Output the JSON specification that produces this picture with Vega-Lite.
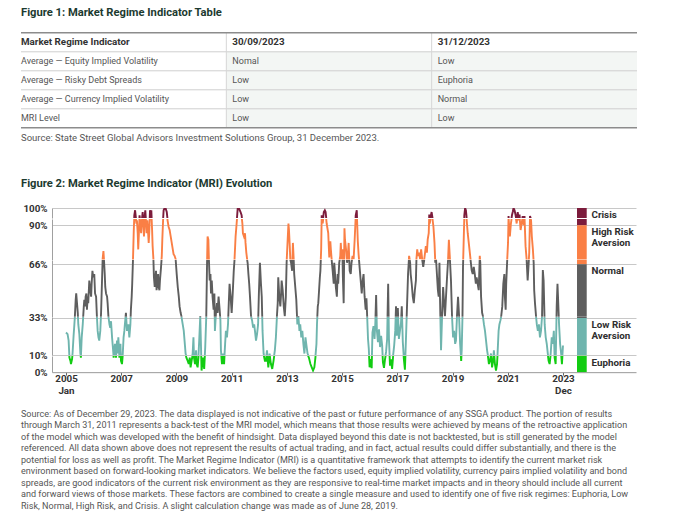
{
 "$schema": "https://vega.github.io/schema/vega-lite/v6.json",
 "padding": {"left": 20, "top": 0, "right": 0, "bottom": 0},
 "background": "white",
 "spacing": 0,
 "bounds": "flush",
 "config": {"view": {"stroke": null}, "font": "Roboto", "axis": {"labelFont": "Roboto"}},
 "datasets": {
  "table": [
   {"r":0,"c":0,"text":"Market Regime Indicator"},{"r":0,"c":1,"text":"30/09/2023"},{"r":0,"c":2,"text":"31/12/2023"},
   {"r":1,"c":0,"text":"Average — Equity Implied Volatility"},{"r":1,"c":1,"text":"Nomal"},{"r":1,"c":2,"text":"Low"},
   {"r":2,"c":0,"text":"Average — Risky Debt Spreads"},{"r":2,"c":1,"text":"Low"},{"r":2,"c":2,"text":"Euphoria"},
   {"r":3,"c":0,"text":"Average — Currency Implied Volatility"},{"r":3,"c":1,"text":"Low"},{"r":3,"c":2,"text":"Normal"},
   {"r":4,"c":0,"text":"MRI Level"},{"r":4,"c":1,"text":"Low"},{"r":4,"c":2,"text":"Low"}
  ],
  "legend": [
   {"regime":"Crisis","lo":90,"hi":100,"label":"Crisis"},
   {"regime":"High Risk Aversion","lo":66,"hi":90,"label":"High Risk|Aversion"},
   {"regime":"Normal","lo":33,"hi":66,"label":"Normal"},
   {"regime":"Low Risk Aversion","lo":10,"hi":33,"label":"Low Risk|Aversion"},
   {"regime":"Euphoria","lo":0,"hi":10,"label":"Euphoria"}
  ],
  "foot": [
   {"line":1,"text":"Source: As of December 29, 2023. The data displayed is not indicative of the past or future performance of any SSGA product. The portion of results"},
   {"line":2,"text":"through March 31, 2011 represents a back-test of the MRI model, which means that those results were achieved by means of the retroactive application"},
   {"line":3,"text":"of the model which was developed with the benefit of hindsight. Data displayed beyond this date is not backtested, but is still generated by the model"},
   {"line":4,"text":"referenced. All data shown above does not represent the results of actual trading, and in fact, actual results could differ substantially, and there is the"},
   {"line":5,"text":"potential for loss as well as profit. The Market Regime Indicator (MRI) is a quantitative framework that attempts to identify the current market risk"},
   {"line":6,"text":"environment based on forward-looking market indicators. We believe the factors used, equity implied volatility, currency pairs implied volatility and bond"},
   {"line":7,"text":"spreads, are good indicators of the current risk environment as they are responsive to real-time market impacts and in theory should include all current"},
   {"line":8,"text":"and forward views of those markets. These factors are combined to create a single measure and used to identify one of five risk regimes: Euphoria, Low"},
   {"line":9,"text":"Risk, Normal, High Risk, and Crisis. A slight calculation change was made as of June 28, 2019."}
  ],
  "mri": [
   {"t":2005.00,"v":24},{"t":2005.06,"v":23},{"t":2005.10,"v":19},{"t":2005.13,"v":9},{"t":2005.17,"v":7},{"t":2005.19,"v":5},{"t":2005.23,"v":8},{"t":2005.25,"v":11},{"t":2005.29,"v":22},{"t":2005.32,"v":29},{"t":2005.34,"v":34},{"t":2005.37,"v":44},{"t":2005.39,"v":48},{"t":2005.42,"v":42},{"t":2005.45,"v":36},{"t":2005.47,"v":29},{"t":2005.51,"v":23},{"t":2005.55,"v":11},{"t":2005.57,"v":9},{"t":2005.60,"v":21},{"t":2005.64,"v":29},{"t":2005.68,"v":40},{"t":2005.70,"v":44},{"t":2005.73,"v":40},{"t":2005.75,"v":46},{"t":2005.78,"v":48},{"t":2005.80,"v":38},{"t":2005.83,"v":46},{"t":2005.85,"v":42},{"t":2005.89,"v":56},{"t":2005.93,"v":50},{"t":2005.96,"v":46},{"t":2005.98,"v":54},
   {"t":2006.01,"v":62},{"t":2006.04,"v":58},{"t":2006.08,"v":60},{"t":2006.11,"v":48},{"t":2006.15,"v":46},{"t":2006.18,"v":34},{"t":2006.21,"v":25},{"t":2006.24,"v":21},{"t":2006.27,"v":19},{"t":2006.31,"v":25},{"t":2006.34,"v":36},{"t":2006.38,"v":58},{"t":2006.40,"v":69},{"t":2006.43,"v":74},{"t":2006.45,"v":69},{"t":2006.48,"v":60},{"t":2006.50,"v":52},{"t":2006.53,"v":48},{"t":2006.57,"v":46},{"t":2006.59,"v":42},{"t":2006.62,"v":34},{"t":2006.66,"v":29},{"t":2006.69,"v":27},{"t":2006.72,"v":31},{"t":2006.76,"v":21},{"t":2006.80,"v":13},{"t":2006.82,"v":9},{"t":2006.87,"v":17},{"t":2006.91,"v":9},{"t":2006.95,"v":19},{"t":2006.97,"v":11},
   {"t":2007.00,"v":21},{"t":2007.04,"v":9},{"t":2007.08,"v":17},{"t":2007.10,"v":7},{"t":2007.14,"v":5},{"t":2007.17,"v":11},{"t":2007.20,"v":21},{"t":2007.23,"v":25},{"t":2007.25,"v":29},{"t":2007.29,"v":36},{"t":2007.33,"v":25},{"t":2007.38,"v":29},{"t":2007.42,"v":21},{"t":2007.46,"v":29},{"t":2007.48,"v":38},{"t":2007.51,"v":46},{"t":2007.53,"v":54},{"t":2007.56,"v":69},{"t":2007.59,"v":87},{"t":2007.61,"v":95.5},{"t":2007.64,"v":98.6},{"t":2007.66,"v":95.5},{"t":2007.69,"v":91},{"t":2007.71,"v":93},{"t":2007.74,"v":85},{"t":2007.76,"v":75},{"t":2007.79,"v":87},{"t":2007.81,"v":95.5},{"t":2007.84,"v":91},{"t":2007.87,"v":85},{"t":2007.89,"v":91},{"t":2007.93,"v":97.5},{"t":2007.95,"v":91},{"t":2007.98,"v":83},
   {"t":2008.01,"v":95.5},{"t":2008.03,"v":98.6},{"t":2008.06,"v":91},{"t":2008.08,"v":85},{"t":2008.11,"v":93},{"t":2008.13,"v":87},{"t":2008.16,"v":79},{"t":2008.18,"v":85},{"t":2008.21,"v":98.6},{"t":2008.24,"v":95.5},{"t":2008.26,"v":98.6},{"t":2008.29,"v":87},{"t":2008.31,"v":77},{"t":2008.34,"v":69},{"t":2008.36,"v":58},{"t":2008.39,"v":52},{"t":2008.41,"v":56},{"t":2008.44,"v":62},{"t":2008.46,"v":50},{"t":2008.49,"v":54},{"t":2008.52,"v":60},{"t":2008.54,"v":52},{"t":2008.57,"v":50},{"t":2008.59,"v":56},{"t":2008.63,"v":64},{"t":2008.66,"v":71},{"t":2008.68,"v":81},{"t":2008.71,"v":93},{"t":2008.73,"v":98.6},{"t":2008.77,"v":100},{"t":2008.81,"v":99.6},{"t":2008.85,"v":97.5},{"t":2008.88,"v":93},{"t":2008.92,"v":89},{"t":2008.96,"v":87},
   {"t":2009.00,"v":83},{"t":2009.04,"v":79},{"t":2009.08,"v":75},{"t":2009.11,"v":72},{"t":2009.15,"v":71},{"t":2009.19,"v":69},{"t":2009.23,"v":60},{"t":2009.27,"v":52},{"t":2009.31,"v":46},{"t":2009.34,"v":40},{"t":2009.38,"v":36},{"t":2009.41,"v":34},{"t":2009.46,"v":29},{"t":2009.50,"v":25},{"t":2009.53,"v":19},{"t":2009.57,"v":11},{"t":2009.60,"v":9},{"t":2009.65,"v":7},{"t":2009.69,"v":5},{"t":2009.73,"v":9},{"t":2009.76,"v":3},{"t":2009.80,"v":7},{"t":2009.84,"v":11},{"t":2009.87,"v":21},{"t":2009.89,"v":9},{"t":2009.93,"v":5},{"t":2009.97,"v":13},{"t":2009.99,"v":5},
   {"t":2010.03,"v":3},{"t":2010.06,"v":9},{"t":2010.09,"v":19},{"t":2010.13,"v":34},{"t":2010.18,"v":1},{"t":2010.23,"v":9},{"t":2010.28,"v":2},{"t":2010.32,"v":15},{"t":2010.36,"v":34},{"t":2010.39,"v":67},{"t":2010.41,"v":83},{"t":2010.44,"v":81},{"t":2010.46,"v":69},{"t":2010.49,"v":56},{"t":2010.52,"v":60},{"t":2010.54,"v":48},{"t":2010.57,"v":56},{"t":2010.60,"v":46},{"t":2010.64,"v":38},{"t":2010.67,"v":48},{"t":2010.69,"v":25},{"t":2010.73,"v":36},{"t":2010.77,"v":42},{"t":2010.79,"v":36},{"t":2010.83,"v":46},{"t":2010.87,"v":38},{"t":2010.90,"v":31.5},{"t":2010.92,"v":13},{"t":2010.96,"v":5},
   {"t":2011.00,"v":11},{"t":2011.04,"v":5},{"t":2011.08,"v":17},{"t":2011.11,"v":25},{"t":2011.15,"v":21},{"t":2011.19,"v":29},{"t":2011.22,"v":42},{"t":2011.25,"v":54},{"t":2011.29,"v":46},{"t":2011.33,"v":36},{"t":2011.37,"v":48},{"t":2011.41,"v":62},{"t":2011.44,"v":69},{"t":2011.48,"v":83},{"t":2011.52,"v":91},{"t":2011.56,"v":99.6},{"t":2011.60,"v":100},{"t":2011.64,"v":98.6},{"t":2011.67,"v":97.5},{"t":2011.71,"v":95.5},{"t":2011.74,"v":91},{"t":2011.76,"v":85},{"t":2011.80,"v":83},{"t":2011.84,"v":85},{"t":2011.86,"v":79},{"t":2011.89,"v":73},{"t":2011.92,"v":69},{"t":2011.94,"v":67},{"t":2011.97,"v":60},
   {"t":2012.00,"v":54},{"t":2012.03,"v":46},{"t":2012.07,"v":34},{"t":2012.11,"v":31.5},{"t":2012.15,"v":27},{"t":2012.19,"v":29},{"t":2012.22,"v":25},{"t":2012.26,"v":19},{"t":2012.30,"v":23},{"t":2012.34,"v":29},{"t":2012.37,"v":48},{"t":2012.41,"v":67},{"t":2012.45,"v":54},{"t":2012.48,"v":46},{"t":2012.51,"v":25},{"t":2012.55,"v":11},{"t":2012.60,"v":7},{"t":2012.64,"v":7},{"t":2012.68,"v":13},{"t":2012.73,"v":3},{"t":2012.78,"v":11},{"t":2012.83,"v":5},{"t":2012.88,"v":2},{"t":2012.93,"v":7},{"t":2012.98,"v":13},
   {"t":2013.02,"v":21},{"t":2013.06,"v":34},{"t":2013.09,"v":42},{"t":2013.11,"v":58},{"t":2013.15,"v":46},{"t":2013.19,"v":40},{"t":2013.22,"v":48},{"t":2013.24,"v":56},{"t":2013.28,"v":50},{"t":2013.32,"v":40},{"t":2013.36,"v":34},{"t":2013.40,"v":46},{"t":2013.43,"v":67},{"t":2013.47,"v":81},{"t":2013.50,"v":91},{"t":2013.52,"v":87},{"t":2013.55,"v":77},{"t":2013.57,"v":69},{"t":2013.60,"v":67},{"t":2013.64,"v":62},{"t":2013.67,"v":79},{"t":2013.70,"v":69},{"t":2013.72,"v":60},{"t":2013.76,"v":52},{"t":2013.80,"v":44},{"t":2013.84,"v":29},{"t":2013.88,"v":34},{"t":2013.92,"v":25},{"t":2013.95,"v":29},{"t":2013.99,"v":21},
   {"t":2014.03,"v":25},{"t":2014.07,"v":17},{"t":2014.11,"v":11},{"t":2014.15,"v":21},{"t":2014.18,"v":17},{"t":2014.23,"v":11},{"t":2014.28,"v":9},{"t":2014.34,"v":5},{"t":2014.39,"v":3},{"t":2014.44,"v":1},{"t":2014.49,"v":3},{"t":2014.53,"v":9},{"t":2014.57,"v":17},{"t":2014.59,"v":29},{"t":2014.62,"v":40},{"t":2014.64,"v":42},{"t":2014.67,"v":50},{"t":2014.70,"v":58},{"t":2014.72,"v":62},{"t":2014.75,"v":75},{"t":2014.77,"v":95.5},{"t":2014.81,"v":91},{"t":2014.85,"v":97.5},{"t":2014.89,"v":98.6},{"t":2014.92,"v":97.5},{"t":2014.96,"v":91},
   {"t":2015.00,"v":87},{"t":2015.02,"v":85},{"t":2015.06,"v":70},{"t":2015.10,"v":80},{"t":2015.12,"v":75},{"t":2015.15,"v":69},{"t":2015.19,"v":62},{"t":2015.23,"v":54},{"t":2015.25,"v":67},{"t":2015.28,"v":60},{"t":2015.31,"v":52},{"t":2015.35,"v":46},{"t":2015.38,"v":60},{"t":2015.40,"v":54},{"t":2015.44,"v":67},{"t":2015.48,"v":71},{"t":2015.50,"v":79},{"t":2015.53,"v":69},{"t":2015.56,"v":75},{"t":2015.58,"v":58},{"t":2015.61,"v":42},{"t":2015.64,"v":88},{"t":2015.66,"v":81},{"t":2015.70,"v":75},{"t":2015.74,"v":67},{"t":2015.76,"v":69},{"t":2015.80,"v":79},{"t":2015.84,"v":62},{"t":2015.88,"v":60},{"t":2015.91,"v":67},{"t":2015.95,"v":71},{"t":2015.99,"v":69},
   {"t":2016.03,"v":81},{"t":2016.07,"v":95.5},{"t":2016.11,"v":98.6},{"t":2016.15,"v":80},{"t":2016.18,"v":72},{"t":2016.22,"v":64},{"t":2016.26,"v":56},{"t":2016.30,"v":48},{"t":2016.33,"v":55},{"t":2016.37,"v":60},{"t":2016.41,"v":46},{"t":2016.45,"v":38},{"t":2016.48,"v":45},{"t":2016.51,"v":33},{"t":2016.54,"v":20},{"t":2016.57,"v":14},{"t":2016.60,"v":3},{"t":2016.64,"v":8},{"t":2016.68,"v":2.5},{"t":2016.71,"v":24},{"t":2016.75,"v":28},{"t":2016.79,"v":20},{"t":2016.82,"v":30},{"t":2016.85,"v":47},{"t":2016.88,"v":25},{"t":2016.92,"v":18},{"t":2016.96,"v":26},
   {"t":2017.00,"v":15},{"t":2017.04,"v":22},{"t":2017.08,"v":16},{"t":2017.11,"v":6},{"t":2017.15,"v":2.7},{"t":2017.19,"v":8},{"t":2017.23,"v":12},{"t":2017.27,"v":20},{"t":2017.31,"v":54},{"t":2017.34,"v":20},{"t":2017.38,"v":4},{"t":2017.42,"v":8},{"t":2017.46,"v":2},{"t":2017.50,"v":10},{"t":2017.54,"v":16},{"t":2017.58,"v":25},{"t":2017.61,"v":40},{"t":2017.64,"v":22},{"t":2017.68,"v":39},{"t":2017.72,"v":20},{"t":2017.76,"v":25},{"t":2017.80,"v":30},{"t":2017.83,"v":40},{"t":2017.87,"v":18},{"t":2017.91,"v":8},{"t":2017.95,"v":1.5},{"t":2017.99,"v":20},
   {"t":2018.03,"v":40},{"t":2018.07,"v":60},{"t":2018.11,"v":71},{"t":2018.15,"v":67},{"t":2018.17,"v":60},{"t":2018.21,"v":54},{"t":2018.25,"v":46},{"t":2018.29,"v":42},{"t":2018.33,"v":50},{"t":2018.37,"v":56},{"t":2018.39,"v":69},{"t":2018.42,"v":75},{"t":2018.45,"v":71},{"t":2018.49,"v":73},{"t":2018.53,"v":69},{"t":2018.57,"v":75},{"t":2018.61,"v":69},{"t":2018.65,"v":64.5},{"t":2018.69,"v":69},{"t":2018.72,"v":73},{"t":2018.75,"v":77},{"t":2018.79,"v":73},{"t":2018.82,"v":81},{"t":2018.86,"v":85},{"t":2018.88,"v":96},{"t":2018.90,"v":91},{"t":2018.93,"v":94.4},{"t":2018.97,"v":97.5},
   {"t":2019.00,"v":94.4},{"t":2019.04,"v":89},{"t":2019.08,"v":79},{"t":2019.11,"v":67},{"t":2019.14,"v":69},{"t":2019.18,"v":58},{"t":2019.21,"v":50},{"t":2019.24,"v":46},{"t":2019.27,"v":67},{"t":2019.29,"v":46},{"t":2019.33,"v":13},{"t":2019.37,"v":34},{"t":2019.41,"v":52},{"t":2019.44,"v":44},{"t":2019.48,"v":34},{"t":2019.52,"v":46},{"t":2019.56,"v":58},{"t":2019.60,"v":69},{"t":2019.63,"v":81},{"t":2019.67,"v":69},{"t":2019.71,"v":56},{"t":2019.75,"v":34},{"t":2019.79,"v":21},{"t":2019.83,"v":25},{"t":2019.87,"v":17},{"t":2019.90,"v":19},{"t":2019.94,"v":34},{"t":2019.98,"v":46},
   {"t":2020.02,"v":34},{"t":2020.06,"v":17},{"t":2020.10,"v":7},{"t":2020.12,"v":13},{"t":2020.15,"v":34},{"t":2020.17,"v":64.5},{"t":2020.20,"v":83},{"t":2020.22,"v":95.5},{"t":2020.25,"v":100},{"t":2020.28,"v":98.6},{"t":2020.30,"v":95.5},{"t":2020.33,"v":89},{"t":2020.35,"v":85},{"t":2020.39,"v":79},{"t":2020.43,"v":73},{"t":2020.47,"v":67},{"t":2020.50,"v":62.5},{"t":2020.54,"v":60},{"t":2020.58,"v":64.5},{"t":2020.62,"v":60},{"t":2020.66,"v":54},{"t":2020.69,"v":58},{"t":2020.73,"v":54},{"t":2020.77,"v":50},{"t":2020.81,"v":71},{"t":2020.83,"v":67},{"t":2020.86,"v":46},{"t":2020.90,"v":36},{"t":2020.93,"v":34},{"t":2020.97,"v":29},
   {"t":2021.01,"v":25},{"t":2021.05,"v":19},{"t":2021.09,"v":13},{"t":2021.13,"v":9},{"t":2021.16,"v":5},{"t":2021.20,"v":7},{"t":2021.24,"v":11},{"t":2021.28,"v":3},{"t":2021.32,"v":7},{"t":2021.35,"v":13},{"t":2021.39,"v":5},{"t":2021.43,"v":1},{"t":2021.47,"v":5},{"t":2021.49,"v":11},{"t":2021.53,"v":25},{"t":2021.56,"v":29},{"t":2021.60,"v":31.5},{"t":2021.63,"v":34},{"t":2021.67,"v":40},{"t":2021.71,"v":54},{"t":2021.75,"v":60},{"t":2021.77,"v":46},{"t":2021.80,"v":38},{"t":2021.82,"v":54},{"t":2021.86,"v":69},{"t":2021.89,"v":79},{"t":2021.91,"v":95},{"t":2021.94,"v":87},{"t":2021.96,"v":83},
   {"t":2022.00,"v":91},{"t":2022.04,"v":95.5},{"t":2022.07,"v":97.5},{"t":2022.10,"v":100},{"t":2022.14,"v":98.6},{"t":2022.18,"v":95.5},{"t":2022.22,"v":91},{"t":2022.26,"v":97.5},{"t":2022.30,"v":93},{"t":2022.33,"v":96},{"t":2022.37,"v":87},{"t":2022.41,"v":91},{"t":2022.45,"v":95},{"t":2022.49,"v":90},{"t":2022.52,"v":95},{"t":2022.56,"v":77},{"t":2022.60,"v":69},{"t":2022.64,"v":56},{"t":2022.68,"v":67},{"t":2022.70,"v":73},{"t":2022.73,"v":95},{"t":2022.77,"v":93},{"t":2022.80,"v":83},{"t":2022.84,"v":75},{"t":2022.87,"v":67},{"t":2022.89,"v":50},{"t":2022.92,"v":42},{"t":2022.96,"v":34},{"t":2022.99,"v":29},
   {"t":2023.03,"v":25},{"t":2023.07,"v":29},{"t":2023.11,"v":21},{"t":2023.15,"v":25},{"t":2023.19,"v":34},{"t":2023.22,"v":62.5},{"t":2023.25,"v":56},{"t":2023.29,"v":29},{"t":2023.33,"v":21},{"t":2023.37,"v":17},{"t":2023.41,"v":11},{"t":2023.44,"v":7},{"t":2023.48,"v":5},{"t":2023.52,"v":11},{"t":2023.56,"v":21},{"t":2023.60,"v":17},{"t":2023.64,"v":25},{"t":2023.67,"v":9},{"t":2023.71,"v":5},{"t":2023.75,"v":40},{"t":2023.78,"v":54},{"t":2023.80,"v":46},{"t":2023.84,"v":29},{"t":2023.88,"v":17},{"t":2023.92,"v":11},{"t":2023.95,"v":5},{"t":2023.99,"v":16}
  ]
 },
 "vconcat": [
  {
   "width": 584, "height": 160,
   "layer": [
    {"data": {"values": [{}]}, "mark": {"type": "rect", "fill": "#f3f6f4"},
     "encoding": {"x": {"datum": 1, "type": "quantitative", "scale": {"domain": [0, 3], "range": [-31, 585], "nice": false, "zero": false}, "axis": null}, "x2": {"datum": 3},
      "y": {"datum": 0.5, "type": "quantitative", "scale": {"domain": [-2.2263, 6.1947], "range": [0, 160], "nice": false, "zero": false}, "axis": null}, "y2": {"datum": 4.5}}},
    {"data": {"values": [{"b": 0.5}, {"b": 1.5}, {"b": 2.5}, {"b": 3.5}]}, "mark": {"type": "rule", "color": "#cfcfcf", "strokeWidth": 1},
     "encoding": {"x": {"datum": 0, "type": "quantitative"}, "x2": {"datum": 3}, "y": {"field": "b", "type": "quantitative"}}},
    {"data": {"values": [{"c": 1}, {"c": 2}]}, "mark": {"type": "rule", "color": "#d6d6d6", "strokeWidth": 1},
     "encoding": {"x": {"field": "c", "type": "quantitative"}, "y": {"datum": -0.5, "type": "quantitative"}, "y2": {"datum": 4.5}}},
    {"data": {"values": [{"b": -0.5}, {"b": 4.5}]}, "mark": {"type": "rule", "color": "#8c8c8c", "strokeWidth": 1.6},
     "encoding": {"x": {"datum": 0, "type": "quantitative"}, "x2": {"datum": 3}, "y": {"field": "b", "type": "quantitative"}}},
    {"data": {"name": "table"}, "transform": [{"filter": "datum.r == 0 && datum.c == 0"}],
     "mark": {"type": "text", "align": "left", "baseline": "middle", "fontSize": 9.8, "fontWeight": "bold", "color": "#333333"},
     "encoding": {"x": {"field": "c", "type": "quantitative"}, "y": {"field": "r", "type": "quantitative"}, "text": {"field": "text"}}},
    {"data": {"name": "table"}, "transform": [{"filter": "datum.r == 0 && datum.c > 0"}],
     "mark": {"type": "text", "align": "left", "baseline": "middle", "dx": 6, "fontSize": 9.8, "fontWeight": "bold", "color": "#333333"},
     "encoding": {"x": {"field": "c", "type": "quantitative"}, "y": {"field": "r", "type": "quantitative"}, "text": {"field": "text"}}},
    {"data": {"name": "table"}, "transform": [{"filter": "datum.r > 0 && datum.c == 0"}],
     "mark": {"type": "text", "align": "left", "baseline": "middle", "fontSize": 9, "color": "#555555"},
     "encoding": {"x": {"field": "c", "type": "quantitative"}, "y": {"field": "r", "type": "quantitative"}, "text": {"field": "text"}}},
    {"data": {"name": "table"}, "transform": [{"filter": "datum.r > 0 && datum.c > 0"}],
     "mark": {"type": "text", "align": "left", "baseline": "middle", "dx": 6, "fontSize": 9, "color": "#555555"},
     "encoding": {"x": {"field": "c", "type": "quantitative"}, "y": {"field": "r", "type": "quantitative"}, "text": {"field": "text"}}},
    {"data": {"values": [{"text": "Figure 1: Market Regime Indicator Table"}]},
     "mark": {"type": "text", "align": "left", "baseline": "middle", "fontSize": 11.2, "fontWeight": "bold", "color": "#1c3a30"},
     "encoding": {"x": {"datum": 0, "type": "quantitative"}, "y": {"datum": -1.516, "type": "quantitative"}, "text": {"field": "text"}}},
    {"data": {"values": [{"text": "Source: State Street Global Advisors Investment Solutions Group, 31 December 2023."}]},
     "mark": {"type": "text", "align": "left", "baseline": "middle", "fontSize": 9.5, "color": "#555555"},
     "encoding": {"x": {"datum": 0, "type": "quantitative"}, "y": {"datum": 5.053, "type": "quantitative"}, "text": {"field": "text"}}}
   ]
  },
  {
   "width": 584, "height": 47.7,
   "data": {"values": [{"text": "Figure 2: Market Regime Indicator (MRI) Evolution"}]},
   "mark": {"type": "text", "align": "left", "baseline": "middle", "fontSize": 11.2, "fontWeight": "bold", "color": "#1c3a30"},
   "encoding": {"x": {"datum": 0, "type": "quantitative", "scale": {"domain": [0, 1], "range": [-31, 553], "nice": false, "zero": false}, "axis": null}, "text": {"field": "text"}}
  },
  {
   "width": 584, "height": 10.02,
   "layer": [
    {"data": {"name": "legend"}, "mark": {"type": "rect", "clip": true},
     "encoding": {"x": {"datum": 2024.526, "type": "quantitative", "scale": {"domain": [2004.465, 2026.78], "nice": false, "zero": false}, "axis": null}, "x2": {"datum": 2024.897},
      "y": {"field": "lo", "type": "quantitative", "scale": {"domain": [93.8, 100], "nice": false, "zero": false},
       "axis": {"values": [100], "title": null, "grid": true, "gridColor": "#c8c8c8", "ticks": false, "domainColor": "#a0a0a0", "labelExpr": "datum.value + '%'", "labelFontSize": 9.8, "labelFontWeight": "bold", "labelColor": "#333333", "labelPadding": 5, "labelOverlap": false}},
      "y2": {"field": "hi"},
      "color": {"field": "regime", "type": "nominal", "scale": {"domain": ["Crisis", "High Risk Aversion", "Normal", "Low Risk Aversion", "Euphoria"], "range": ["#7c1c3c", "#fa7f45", "#5e5e5e", "#6fb5ae", "#12cc12"]}, "legend": null}}},
    {"data": {"name": "mri"}, "mark": {"type": "line", "clip": true, "color": "#7c1c3c", "strokeWidth": 1.9},
     "encoding": {"x": {"field": "t", "type": "quantitative"}, "y": {"field": "v", "type": "quantitative"}}},
    {"data": {"name": "legend"}, "transform": [{"filter": "datum.regime == 'Crisis'"}],
     "mark": {"type": "text", "align": "left", "baseline": "top", "dy": 2, "lineBreak": "|", "lineHeight": 11, "fontSize": 9.8, "fontWeight": "bold", "color": "#2e2e2e"},
     "encoding": {"x": {"datum": 2025.08, "type": "quantitative"}, "y": {"field": "hi", "type": "quantitative"}, "text": {"field": "label"}}}
   ]
  },
  {
   "width": 584, "height": 40.56,
   "layer": [
    {"data": {"name": "legend"}, "mark": {"type": "rect", "clip": true},
     "encoding": {"x": {"datum": 2024.526, "type": "quantitative", "scale": {"domain": [2004.465, 2026.78], "nice": false, "zero": false}, "axis": null}, "x2": {"datum": 2024.897},
      "y": {"field": "lo", "type": "quantitative", "scale": {"domain": [68.7, 93.8], "nice": false, "zero": false},
       "axis": {"values": [90], "title": null, "grid": true, "gridColor": "#c8c8c8", "ticks": false, "domainColor": "#a0a0a0", "labelExpr": "datum.value + '%'", "labelFontSize": 9.8, "labelFontWeight": "bold", "labelColor": "#333333", "labelPadding": 5, "labelOverlap": false}},
      "y2": {"field": "hi"},
      "color": {"field": "regime", "type": "nominal", "scale": {"domain": ["Crisis", "High Risk Aversion", "Normal", "Low Risk Aversion", "Euphoria"], "range": ["#7c1c3c", "#fa7f45", "#5e5e5e", "#6fb5ae", "#12cc12"]}, "legend": null}}},
    {"data": {"name": "mri"}, "mark": {"type": "line", "clip": true, "color": "#fa7f45", "strokeWidth": 1.9},
     "encoding": {"x": {"field": "t", "type": "quantitative"}, "y": {"field": "v", "type": "quantitative"}}},
    {"data": {"name": "legend"}, "transform": [{"filter": "datum.regime == 'High Risk Aversion'"}],
     "mark": {"type": "text", "align": "left", "baseline": "top", "dy": 2, "lineBreak": "|", "lineHeight": 11, "fontSize": 9.8, "fontWeight": "bold", "color": "#2e2e2e"},
     "encoding": {"x": {"datum": 2025.08, "type": "quantitative"}, "y": {"field": "hi", "type": "quantitative"}, "text": {"field": "label"}}}
   ]
  },
  {
   "width": 584, "height": 56.72,
   "layer": [
    {"data": {"name": "legend"}, "mark": {"type": "rect", "clip": true},
     "encoding": {"x": {"datum": 2024.526, "type": "quantitative", "scale": {"domain": [2004.465, 2026.78], "nice": false, "zero": false}, "axis": null}, "x2": {"datum": 2024.897},
      "y": {"field": "lo", "type": "quantitative", "scale": {"domain": [33.6, 68.7], "nice": false, "zero": false},
       "axis": {"values": [66], "title": null, "grid": true, "gridColor": "#c8c8c8", "ticks": false, "domainColor": "#a0a0a0", "labelExpr": "datum.value + '%'", "labelFontSize": 9.8, "labelFontWeight": "bold", "labelColor": "#333333", "labelPadding": 5, "labelOverlap": false}},
      "y2": {"field": "hi"},
      "color": {"field": "regime", "type": "nominal", "scale": {"domain": ["Crisis", "High Risk Aversion", "Normal", "Low Risk Aversion", "Euphoria"], "range": ["#7c1c3c", "#fa7f45", "#5e5e5e", "#6fb5ae", "#12cc12"]}, "legend": null}}},
    {"data": {"name": "mri"}, "mark": {"type": "line", "clip": true, "color": "#5e5e5e", "strokeWidth": 1.9},
     "encoding": {"x": {"field": "t", "type": "quantitative"}, "y": {"field": "v", "type": "quantitative"}}},
    {"data": {"name": "legend"}, "transform": [{"filter": "datum.regime == 'Normal'"}],
     "mark": {"type": "text", "align": "left", "baseline": "top", "dy": 2, "lineBreak": "|", "lineHeight": 11, "fontSize": 9.8, "fontWeight": "bold", "color": "#2e2e2e"},
     "encoding": {"x": {"datum": 2025.08, "type": "quantitative"}, "y": {"field": "hi", "type": "quantitative"}, "text": {"field": "label"}}}
   ]
  },
  {
   "width": 584, "height": 38.14,
   "layer": [
    {"data": {"name": "legend"}, "mark": {"type": "rect", "clip": true},
     "encoding": {"x": {"datum": 2024.526, "type": "quantitative", "scale": {"domain": [2004.465, 2026.78], "nice": false, "zero": false}, "axis": null}, "x2": {"datum": 2024.897},
      "y": {"field": "lo", "type": "quantitative", "scale": {"domain": [10, 33.6], "nice": false, "zero": false},
       "axis": {"values": [10, 33], "title": null, "grid": true, "gridColor": "#c8c8c8", "ticks": false, "domainColor": "#a0a0a0", "labelExpr": "datum.value + '%'", "labelFontSize": 9.8, "labelFontWeight": "bold", "labelColor": "#333333", "labelPadding": 5, "labelOverlap": false}},
      "y2": {"field": "hi"},
      "color": {"field": "regime", "type": "nominal", "scale": {"domain": ["Crisis", "High Risk Aversion", "Normal", "Low Risk Aversion", "Euphoria"], "range": ["#7c1c3c", "#fa7f45", "#5e5e5e", "#6fb5ae", "#12cc12"]}, "legend": null}}},
    {"data": {"name": "mri"}, "mark": {"type": "line", "clip": true, "color": "#6fb5ae", "strokeWidth": 1.9},
     "encoding": {"x": {"field": "t", "type": "quantitative"}, "y": {"field": "v", "type": "quantitative"}}},
    {"data": {"name": "legend"}, "transform": [{"filter": "datum.regime == 'Low Risk Aversion'"}],
     "mark": {"type": "text", "align": "left", "baseline": "top", "dy": 2, "lineBreak": "|", "lineHeight": 11, "fontSize": 9.8, "fontWeight": "bold", "color": "#2e2e2e"},
     "encoding": {"x": {"datum": 2025.08, "type": "quantitative"}, "y": {"field": "hi", "type": "quantitative"}, "text": {"field": "label"}}}
   ]
  },
  {
   "width": 584, "height": 16.16,
   "layer": [
    {"data": {"name": "legend"}, "mark": {"type": "rect", "clip": true},
     "encoding": {"x": {"datum": 2024.526, "type": "quantitative", "scale": {"domain": [2004.465, 2026.78], "nice": false, "zero": false},
       "axis": {"values": [2005, 2007.11, 2009.22, 2011.33, 2013.44, 2015.55, 2017.66, 2019.77, 2021.88, 2023.99], "title": null, "grid": false, "ticks": true, "tickSize": 3, "tickColor": "#666666", "domainColor": "#999999", "labelExpr": "datum.value < 2006 ? ['2005', 'Jan'] : (datum.value > 2023 ? ['2023', 'Dec'] : '' + floor(datum.value))", "labelFontSize": 9.8, "labelFontWeight": "bold", "labelColor": "#333333", "labelPadding": -1.5, "labelFlush": false, "labelOverlap": false, "labelLineHeight": 11.5}},
      "x2": {"datum": 2024.897},
      "y": {"field": "lo", "type": "quantitative", "scale": {"domain": [0, 10], "nice": false, "zero": false},
       "axis": {"values": [0], "title": null, "grid": false, "ticks": false, "domainColor": "#a0a0a0", "labelExpr": "datum.value + '%'", "labelFontSize": 9.8, "labelFontWeight": "bold", "labelColor": "#333333", "labelPadding": 5, "labelOverlap": false}},
      "y2": {"field": "hi"},
      "color": {"field": "regime", "type": "nominal", "scale": {"domain": ["Crisis", "High Risk Aversion", "Normal", "Low Risk Aversion", "Euphoria"], "range": ["#7c1c3c", "#fa7f45", "#5e5e5e", "#6fb5ae", "#12cc12"]}, "legend": null}}},
    {"data": {"name": "mri"}, "mark": {"type": "line", "clip": true, "color": "#12cc12", "strokeWidth": 1.9},
     "encoding": {"x": {"field": "t", "type": "quantitative"}, "y": {"field": "v", "type": "quantitative"}}},
    {"data": {"name": "legend"}, "transform": [{"filter": "datum.regime == 'Euphoria'"}],
     "mark": {"type": "text", "align": "left", "baseline": "top", "dy": 2, "lineBreak": "|", "lineHeight": 11, "fontSize": 9.8, "fontWeight": "bold", "color": "#2e2e2e"},
     "encoding": {"x": {"datum": 2025.08, "type": "quantitative"}, "y": {"field": "hi", "type": "quantitative"}, "text": {"field": "label"}}}
   ]
  },
  {
   "width": 584, "height": 140,
   "data": {"name": "foot"},
   "mark": {"type": "text", "align": "left", "baseline": "middle", "fontSize": 9.05, "color": "#555555"},
   "encoding": {"x": {"datum": 0, "type": "quantitative", "scale": {"domain": [0, 1], "range": [-31, 553], "nice": false, "zero": false}, "axis": null},
    "y": {"field": "line", "type": "quantitative", "scale": {"domain": [1, 9], "range": [40.7, 132.7], "nice": false, "zero": false}, "axis": null},
    "text": {"field": "text"}}
  }
 ]
}
